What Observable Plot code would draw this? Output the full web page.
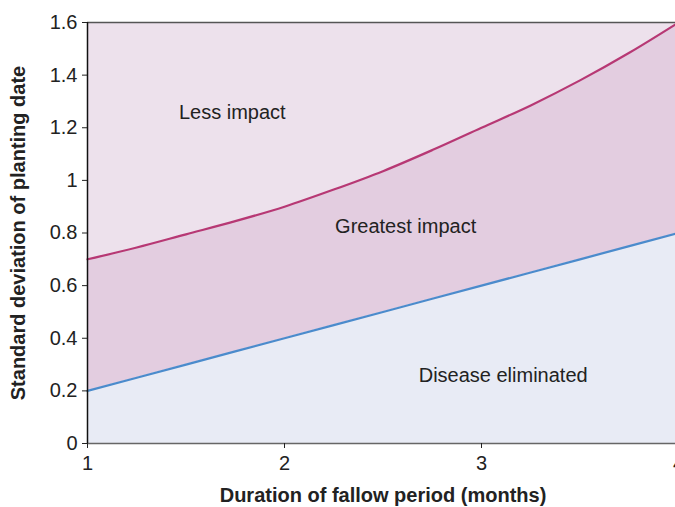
<!DOCTYPE html>
<html>
<head>
<meta charset="utf-8">
<script src="https://cdn.jsdelivr.net/npm/d3@7"></script>
<script src="https://cdn.jsdelivr.net/npm/@observablehq/plot@0.6"></script>
<style>
  html, body { margin: 0; padding: 0; background: #fff; overflow: hidden; width: 675px; height: 507px; }
  svg { display: block; max-width: none !important; }
</style>
</head>
<body>
<div id="chart"></div>
<script>
const months = [1, 1.25, 1.5, 1.75, 2, 2.25, 2.5, 2.75, 3, 3.25, 3.5, 3.75, 4];
const upperBound = [0.70, 0.745, 0.795, 0.845, 0.90, 0.965, 1.035, 1.115, 1.20, 1.285, 1.38, 1.485, 1.60];
const lowerBound = [0.20, 0.25, 0.30, 0.35, 0.40, 0.45, 0.50, 0.55, 0.60, 0.65, 0.70, 0.75, 0.80];
const yTicks = [0, 0.2, 0.4, 0.6, 0.8, 1, 1.2, 1.4, 1.6];
const xTicks = [1, 2, 3, 4];
const regionLabels = [
  {x: 1.735, y: 1.258, text: "Less impact"},
  {x: 2.615, y: 0.825, text: "Greatest impact"},
  {x: 3.11, y: 0.258, text: "Disease eliminated"}
];
const xTitle = "Duration of fallow period (months)";
const yTitle = "Standard deviation of planting date";

const data = months.map((m, i) => ({x: m, upper: upperBound[i], lower: lowerBound[i]}));
const font = "'Liberation Sans', Arial, Helvetica, sans-serif";

const chart = Plot.plot({
  width: 681,
  height: 507,
  marginLeft: 87,
  marginRight: 3,
  marginTop: 22,
  marginBottom: 64,
  style: {fontFamily: font, fontSize: "20px", color: "#222", background: "transparent", maxWidth: "none"},
  x: {domain: [1, 4]},
  y: {domain: [0, 1.6]},
  marks: [
    Plot.areaY(data, {x: "x", y1: "upper", y2: 1.6, fill: "#ede1ec", curve: "monotone-x"}),
    Plot.areaY(data, {x: "x", y1: "lower", y2: "upper", fill: "#e3cde0", curve: "monotone-x"}),
    Plot.areaY(data, {x: "x", y1: 0, y2: "lower", fill: "#e8ebf5", curve: "monotone-x"}),
    Plot.line(data, {x: "x", y: "upper", stroke: "#b73874", strokeWidth: 2.2, curve: "monotone-x"}),
    Plot.line(data, {x: "x", y: "lower", stroke: "#4b8bcc", strokeWidth: 2.2}),
    Plot.ruleY([1.6], {stroke: "#555", strokeWidth: 1.5}),
    Plot.ruleY([0], {stroke: "#666", strokeWidth: 1.5}),
    Plot.ruleX([1], {stroke: "#111", strokeWidth: 1.5}),
    Plot.axisY({ticks: yTicks, tickSize: 5, tickPadding: 5, label: null, tickFormat: d => String(d), fontSize: 20, stroke: "#222"}),
    Plot.axisX({ticks: xTicks, tickSize: 5, tickPadding: 7, label: null, tickFormat: d => String(d), fontSize: 20, stroke: "#222"}),
    Plot.text(regionLabels, {x: "x", y: "y", text: "text", fontSize: 20, fill: "#222"}),
    Plot.text([xTitle], {frameAnchor: "bottom", dy: 52, lineAnchor: "middle", textAnchor: "middle", text: d => d, fontSize: 20, fontWeight: "bold", fill: "#222"}),
    Plot.text([yTitle], {frameAnchor: "left", dx: -69, rotate: -90, textAnchor: "middle", lineAnchor: "middle", text: d => d, fontSize: 20, fontWeight: "bold", fill: "#222"})
  ]
});
chart.style.maxWidth = "none";
document.getElementById("chart").appendChild(chart);
</script>
</body>
</html>
